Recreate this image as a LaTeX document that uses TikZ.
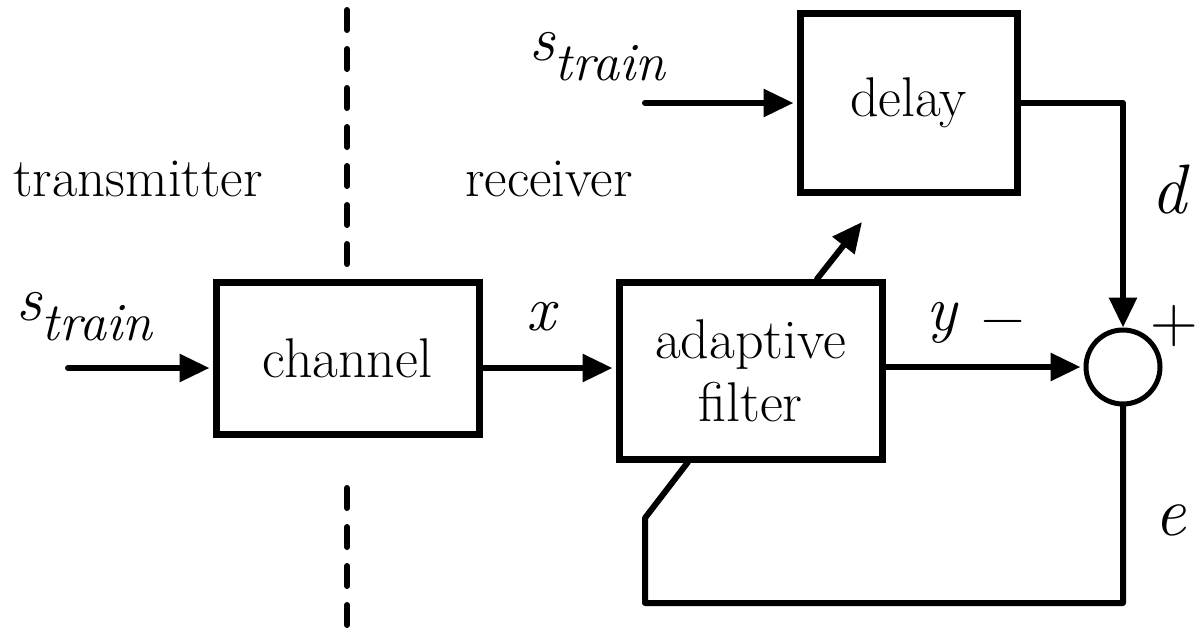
\documentclass[tikz,border=0pt]{standalone}
\usetikzlibrary{arrows.meta,calc}
\begin{document}
\begin{tikzpicture}[x=1pt,y=-1pt,
  wire/.style={line width=6pt, line cap=round, line join=round},
  sig/.style={wire, -{Triangle[length=30pt,width=27pt]}, shorten >=3pt},
  blk/.style={draw, line width=7pt, inner sep=0pt, align=center,
    font=\fontsize{56}{63}\selectfont},
  lbl/.style={inner sep=0pt, font=\fontsize{55}{62}\selectfont},
  var/.style={inner sep=0pt, font=\fontsize{64}{64}\selectfont\itshape},
  sgn/.style={inner sep=0pt, font=\fontsize{60}{60}\selectfont},
  sumjct/.style={draw, circle, line width=5pt, minimum size=74pt, inner sep=0pt}]
\useasboundingbox (0,0) rectangle (1200,638);

% divider between the two sides
\draw[line width=6pt, line cap=round, dash pattern=on 20pt off 19pt] (347,10) -- (347,268);
\draw[line width=6pt, line cap=round, dash pattern=on 20pt off 19pt] (347,488) -- (347,634);

\node[lbl, anchor=base] (tx) at (138,196) {transmitter};
\node[lbl, anchor=base] (rx) at (549,196) {receiver};

% blocks
\node[blk, minimum width=263pt, minimum height=152pt] (chan) at (347.5,358) {channel};
\node[blk, minimum width=263pt, minimum height=177pt] (filt) at (750.5,370.5) {adaptive\\filter};
\node[blk, minimum width=217pt, minimum height=179pt] (dly) at (908.5,102.5) {delay};
\node[sumjct] (sum) at (1123,367) {};

% signal labels
\node[var, anchor=base west] (s1) at (16,320) {s\raisebox{-20pt}{\fontsize{54}{54}\selectfont train}};
\node[var, anchor=base west] (s2) at (529,60) {s\raisebox{-20pt}{\fontsize{54}{54}\selectfont train}};
\node[var, anchor=base] (xl) at (541,330) {x};
\node[var, anchor=base] (yl) at (942,330) {y};
\node[var, font=\fontsize{70}{70}\selectfont\itshape, anchor=base] (dl) at (1169,213) {d};
\node[var, font=\fontsize{70}{70}\selectfont\itshape, anchor=base] (el) at (1170,535) {e};
\node[sgn] (minus) at (1003,328) {−};
\node[inner sep=0pt, font=\fontsize{66}{66}\selectfont] (plus) at (1174,326) {+};

% connectors
\coordinate (in1) at (68,368);
\coordinate (in2) at (645,103);
\draw[sig] (in1) -- (in1 -| chan.west);
\draw[sig] (chan.east |- in1) -- (filt.west |- in1);
\draw[sig] (filt.east |- sum.west) -- (sum.west);
\draw[sig] (in2) -- (in2 -| dly.west);
\draw[sig, shorten >=0pt] (dly.east |- in2) -| (sum.north);

% error feedback into the filter
\coordinate (eb) at (1123,603);
\coordinate (el1) at (645,603);
\coordinate (el2) at (645,518);
\coordinate (el3) at (688,462);
\draw[wire] (sum.south) -- (eb) -- (el1) -- (el2) -- (el3);

% adaptation arrow
\coordinate (ad1) at (817,279);
\coordinate (ad2) at (862,222);
\draw[sig, shorten >=0pt] (ad1) -- (ad2);
\end{tikzpicture}
\end{document}
